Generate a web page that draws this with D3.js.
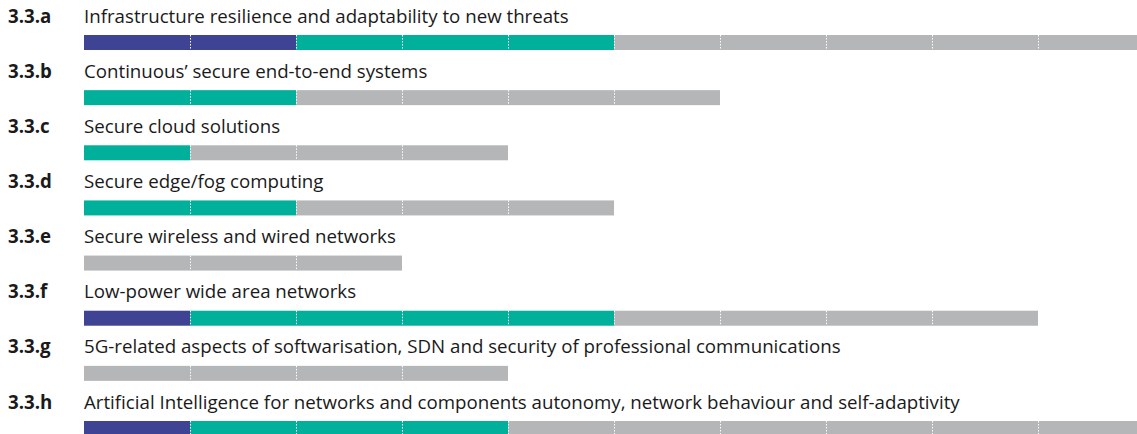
<!DOCTYPE html>
<html>
<head>
<meta charset="utf-8">
<script src="https://cdn.jsdelivr.net/npm/d3@7"></script>
<style>
  body { margin: 0; background: #fff; }
  svg text { font-family: "Open Sans", sans-serif; fill: #1a1a1a; }
</style>
</head>
<body>
<div id="chart"></div>
<script>
// Donnees des lignes
const codes = ["3.3.a", "3.3.b", "3.3.c", "3.3.d", "3.3.e", "3.3.f", "3.3.g", "3.3.h"];
const labels = [
  "Infrastructure resilience and adaptability to new threats",
  "Continuous\u2019 secure end-to-end systems",
  "Secure cloud solutions",
  "Secure edge/fog computing",
  "Secure wireless and wired networks",
  "Low-power wide area networks",
  "5G-related aspects of softwarisation, SDN and security of professional communications",
  "Artificial Intelligence for networks and components autonomy, network behaviour and self-adaptivity"
];
// nombre de segments par categorie
const darkCounts = [2, 0, 0, 0, 0, 1, 0, 1];
const tealCounts = [3, 2, 1, 2, 0, 4, 0, 3];
const grayCounts = [5, 4, 3, 3, 3, 4, 4, 6];

const couleurs = { dark: "#3f4394", teal: "#00b09b", gray: "#b5b6b8" };

const width = 1137, height = 434;
const svg = d3.select("#chart").append("svg")
  .attr("width", width).attr("height", height);

// echelles
const x = d3.scaleLinear().domain([0, 10]).range([84, 1144]);
const y = d3.scaleLinear().domain([0, 7]).range([35, 421]);
const barH = 15;

codes.forEach((code, i) => {
  const g = svg.append("g");
  const yb = y(i);

  g.append("text")
    .attr("x", 8).attr("y", yb - 12.5)
    .style("font-size", "18.7px").style("font-weight", 700)
    .text(code);
  g.append("text")
    .attr("x", x(0)).attr("y", yb - 12.5)
    .style("font-size", "18.7px")
    .text(labels[i]);

  // construire les segments
  const segs = [];
  for (let k = 0; k < darkCounts[i]; k++) segs.push("dark");
  for (let k = 0; k < tealCounts[i]; k++) segs.push("teal");
  for (let k = 0; k < grayCounts[i]; k++) segs.push("gray");

  g.selectAll("rect.seg").data(segs).enter().append("rect")
    .attr("class", "seg")
    .attr("x", (d, j) => x(j))
    .attr("y", yb)
    .attr("width", (d, j) => x(j + 1) - x(j))
    .attr("height", barH)
    .attr("fill", d => couleurs[d]);

  // separateurs pointilles
  g.selectAll("line.sep").data(segs).enter().append("line")
    .attr("class", "sep")
    .attr("x1", (d, j) => Math.round(x(j + 1)) + 0.5)
    .attr("x2", (d, j) => Math.round(x(j + 1)) + 0.5)
    .attr("y1", yb).attr("y2", yb + barH)
    .attr("stroke", "#fff")
    .attr("stroke-width", 1)
    .attr("stroke-dasharray", "1.5,1.5");
});
</script>
</body>
</html>
